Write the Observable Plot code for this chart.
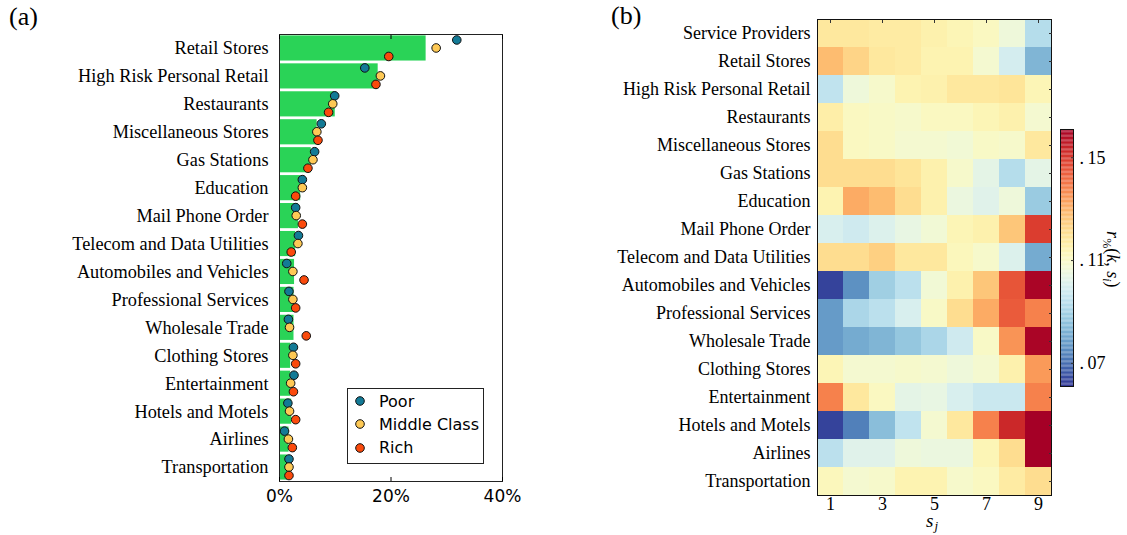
<!DOCTYPE html>
<html><head><meta charset="utf-8">
<script src="https://cdn.jsdelivr.net/npm/d3@7"></script>
<script src="https://cdn.jsdelivr.net/npm/@observablehq/plot@0.6"></script>
<style>
body{margin:0;width:1127px;height:535px;position:relative;background:#fff;overflow:hidden;font-family:"Liberation Serif","Times New Roman",serif;color:#000;}
.abs{position:absolute;}
.panel{font-family:"Liberation Serif",serif;font-size:26px;}
.legend{font-family:"DejaVu Sans",sans-serif;font-size:16px;border:1px solid #222;background:#fff;box-sizing:border-box;}
.legend .row{position:absolute;left:0;display:flex;align-items:center;height:20px;}
</style></head><body>
<div id="left" class="abs" style="left:0;top:0"></div>
<div id="right" class="abs" style="left:560px;top:0"></div>
<div id="cbar" class="abs" style="left:1050px;top:100px"></div>
<div class="abs panel" style="left:9px;top:2px">(a)</div>
<div class="abs panel" style="left:611px;top:1px">(b)</div>
<div id="legend" class="abs legend" style="left:347px;top:388px;width:137px;height:76px"></div>
<div class="abs" style="left:926px;top:511px;font-size:19px;line-height:1;font-style:italic">s<span style="font-size:13px;line-height:1;position:relative;top:3px;margin-left:1px">j</span></div>
<div class="abs" style="left:1111px;top:258px;width:0;height:0">
  <div style="position:absolute;left:-60px;top:-11px;width:120px;text-align:center;transform:rotate(90deg);font-size:18px;white-space:nowrap;"><i>r</i><sub style="font-size:12px">%</sub>(<i>k</i>, <i>s<sub style="font-size:12px">i</sub></i>)</div>
</div>
<script>
// ---- Panel (a) data ----
const categories = ["Retail Stores","High Risk Personal Retail","Restaurants","Miscellaneous Stores","Gas Stations","Education","Mail Phone Order","Telecom and Data Utilities","Automobiles and Vehicles","Professional Services","Wholesale Trade","Clothing Stores","Entertainment","Hotels and Motels","Airlines","Transportation"];
const totalShare = [26.3,17.7,10.0,6.75,5.7,3.8,3.4,2.9,2.7,2.6,2.6,2.0,2.0,2.2,1.7,1.5];
const poorShare = [31.8,15.3,9.9,7.5,6.3,4.1,2.9,3.4,1.3,1.7,1.6,2.5,2.6,1.5,0.9,1.7];
const middleShare = [28.1,18.1,9.55,6.7,6.0,4.1,3.0,3.3,2.4,2.4,1.8,2.4,2.0,1.8,1.6,1.7];
const richShare = [19.6,17.3,8.8,6.9,5.1,2.9,4.1,2.1,4.4,2.9,4.8,2.9,2.5,2.9,2.3,1.7];
const xTicks = [0,20,40];
const classNames = ["Poor","Middle Class","Rich"];
const classColors = ["#137a96","#fec955","#fb4a0c"];

// ---- Panel (b) data ----
const heatCategories = ["Service Providers","Retail Stores","High Risk Personal Retail","Restaurants","Miscellaneous Stores","Gas Stations","Education","Mail Phone Order","Telecom and Data Utilities","Automobiles and Vehicles","Professional Services","Wholesale Trade","Clothing Stores","Entertainment","Hotels and Motels","Airlines","Transportation"];
const sBins = [1,2,3,4,5,6,7,8,9];
const sTicks = [1,3,5,7,9];
const heatValues = [
  [0.118,0.118,0.117,0.117,0.115,0.113,0.111,0.106,0.093],
  [0.128,0.123,0.118,0.117,0.114,0.114,0.108,0.099,0.083],
  [0.095,0.106,0.109,0.114,0.115,0.118,0.118,0.119,0.113],
  [0.116,0.111,0.110,0.109,0.111,0.111,0.113,0.115,0.108],
  [0.121,0.111,0.110,0.108,0.108,0.107,0.110,0.109,0.118],
  [0.121,0.121,0.121,0.119,0.115,0.109,0.103,0.093,0.103],
  [0.114,0.131,0.128,0.121,0.115,0.105,0.102,0.106,0.088],
  [0.100,0.098,0.101,0.104,0.107,0.113,0.115,0.126,0.149],
  [0.121,0.121,0.124,0.118,0.118,0.112,0.109,0.101,0.081],
  [0.063,0.076,0.089,0.094,0.107,0.115,0.126,0.145,0.160],
  [0.078,0.091,0.094,0.100,0.110,0.121,0.131,0.144,0.138],
  [0.078,0.081,0.083,0.087,0.091,0.098,0.110,0.135,0.160],
  [0.113,0.108,0.108,0.109,0.108,0.106,0.108,0.115,0.134],
  [0.138,0.118,0.111,0.103,0.104,0.100,0.097,0.097,0.138],
  [0.063,0.073,0.085,0.095,0.108,0.118,0.138,0.153,0.161],
  [0.094,0.102,0.102,0.106,0.105,0.105,0.113,0.121,0.161],
  [0.112,0.108,0.109,0.114,0.114,0.109,0.111,0.117,0.121]
];
const colorDomain = [0.061,0.161];
const colorTicks = [0.07,0.11,0.15];

// ---- Panel (a) ----
const rows = categories.map((c,i)=>({cat:c,total:totalShare[i],poor:poorShare[i],middle:middleShare[i],rich:richShare[i]}));
const dotKeys = ["poor","middle","rich"];
const dyOff = [-8.5,-0.5,8];
const left = Plot.plot({
  width:540, height:535,
  marginLeft:279, marginRight:38, marginTop:34, marginBottom:54,
  style:{background:"white",color:"black",overflow:"visible"},
  x:{domain:[0,40]},
  y:{domain:categories, paddingInner:0.1, paddingOuter:0.05, round:false, label:null},
  marks:[
    Plot.barX(rows,{x:"total",y:"cat",fill:"#2ad357"}),
    ...dotKeys.map((k,i)=>Plot.dot(rows,{x:k,y:"cat",dy:dyOff[i],r:4.3,fill:classColors[i],stroke:"#111",strokeWidth:1})),
    Plot.frame({stroke:"#222"}),
    Plot.axisY({tickSize:0,tickPadding:11,fontSize:18.3,fontFamily:"Liberation Serif",label:null}),
    Plot.axisX({ticks:xTicks,tickSize:0,tickPadding:8,tickFormat:d=>d+"%",fontSize:17,fontFamily:"DejaVu Sans",label:null}),
    Plot.axisX({anchor:"bottom",ticks:xTicks,tickSize:-4,tickFormat:()=>"",label:null}),
    Plot.axisX({anchor:"top",ticks:xTicks,tickSize:-4,tickFormat:()=>"",label:null})
  ]
});
document.getElementById("left").appendChild(left);

// legend
const lg = document.getElementById("legend");
classNames.forEach((n,i)=>{
  const r = document.createElement("div");
  r.className="row";
  r.style.top = (2 + i*23.3)+"px";
  r.innerHTML = `<svg width="30" height="20" style="margin-left:2px"><circle cx="10" cy="10" r="4.3" fill="${classColors[i]}" stroke="#111" stroke-width="1"/></svg><span style="margin-left:-1px">${n}</span>`;
  lg.appendChild(r);
});

// ---- Panel (b) ----
const cells = [];
heatCategories.forEach((c,i)=>sBins.forEach((s,j)=>cells.push({cat:c,s:s,v:heatValues[i][j]})));
const right = Plot.plot({
  width:520, height:535,
  marginLeft:257, marginRight:29, marginTop:19, marginBottom:40,
  style:{background:"transparent",color:"black",overflow:"visible"},
  x:{domain:sBins,padding:0,round:false,label:null},
  y:{domain:heatCategories,padding:0,round:false,label:null},
  color:{type:"linear",scheme:"RdYlBu",reverse:true,domain:colorDomain,clamp:true},
  marks:[
    Plot.cell(cells,{x:"s",y:"cat",fill:"v"}),
    Plot.frame({stroke:"#111"}),
    Plot.axisY({tickSize:0,tickPadding:7,fontSize:18,fontFamily:"Liberation Serif",label:null}),
    Plot.axisY({anchor:"right",tickSize:-3,tickFormat:()=>"",label:null,stroke:"#333"}),
    Plot.axisX({ticks:sTicks,tickSize:0,tickPadding:2,fontSize:18,fontFamily:"Liberation Serif",label:null}),
    Plot.axisX({anchor:"top",ticks:sTicks,tickSize:-3,tickFormat:()=>"",label:null,stroke:"#333"})
  ]
});
document.getElementById("right").appendChild(right);

// ---- Colorbar ----
const steps = 200;
const stepSize = (colorDomain[1]-colorDomain[0])/steps;
const ramp = d3.range(steps).map(i=>colorDomain[0]+i*stepSize);
const cbar = Plot.plot({
  width:77, height:320,
  marginLeft:10, marginRight:54, marginTop:29, marginBottom:34,
  style:{background:"transparent",color:"black",overflow:"visible"},
  y:{domain:colorDomain,label:null},
  color:{type:"linear",scheme:"RdYlBu",reverse:true,domain:colorDomain},
  marks:[
    Plot.rect(ramp,{y1:d=>d,y2:d=>d+stepSize*1.01,fill:d=>d+stepSize/2}),
    Plot.frame({stroke:"#111"}),
    Plot.axisY({anchor:"right",ticks:colorTicks,tickSize:0,tickPadding:6,tickFormat:d=>".\u2009"+Math.round(d*100).toString().padStart(2,"0"),fontSize:18,fontFamily:"Liberation Serif",label:null}),
    Plot.axisY({anchor:"right",ticks:colorTicks,tickSize:-3,tickFormat:()=>"",label:null,stroke:"#333"})
  ]
});
document.getElementById("cbar").appendChild(cbar);
</script>
</body></html>
